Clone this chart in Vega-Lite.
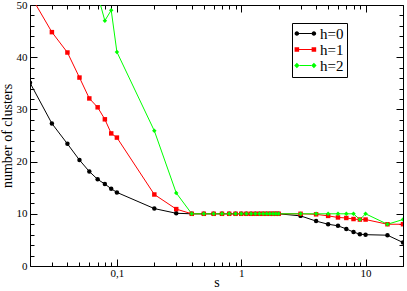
{
  "$schema": "https://vega.github.io/schema/vega-lite/v6.json",
  "width": 373,
  "height": 261,
  "autosize": {"type": "none"},
  "padding": {"left": 30, "top": 5, "right": 4, "bottom": 25},
  "background": "white",
  "config": {
    "view": {"stroke": null},
    "axis": {
      "labelFont": "Liberation Serif",
      "titleFont": "Liberation Serif",
      "labelColor": "black",
      "titleColor": "black",
      "tickColor": "black",
      "domainColor": "black",
      "grid": false,
      "titleFontWeight": "normal",
      "labelFontSize": 11,
      "titleFontSize": 14
    }
  },
  "data": {
    "values": [
      {"s": 0.02, "clusters": 35.1, "h": "h=0"},
      {"s": 0.03, "clusters": 27.3, "h": "h=0"},
      {"s": 0.04, "clusters": 23.4, "h": "h=0"},
      {"s": 0.05, "clusters": 20.3, "h": "h=0"},
      {"s": 0.06, "clusters": 18.1, "h": "h=0"},
      {"s": 0.07, "clusters": 16.6, "h": "h=0"},
      {"s": 0.08, "clusters": 15.7, "h": "h=0"},
      {"s": 0.09, "clusters": 14.8, "h": "h=0"},
      {"s": 0.1, "clusters": 14.1, "h": "h=0"},
      {"s": 0.2, "clusters": 11.0, "h": "h=0"},
      {"s": 0.3, "clusters": 10.1, "h": "h=0"},
      {"s": 0.4, "clusters": 10, "h": "h=0"},
      {"s": 0.5, "clusters": 10, "h": "h=0"},
      {"s": 0.6, "clusters": 10, "h": "h=0"},
      {"s": 0.7, "clusters": 10, "h": "h=0"},
      {"s": 0.8, "clusters": 10, "h": "h=0"},
      {"s": 0.9, "clusters": 10, "h": "h=0"},
      {"s": 1.0, "clusters": 10, "h": "h=0"},
      {"s": 1.1, "clusters": 10, "h": "h=0"},
      {"s": 1.2, "clusters": 10, "h": "h=0"},
      {"s": 1.3, "clusters": 10, "h": "h=0"},
      {"s": 1.4, "clusters": 10, "h": "h=0"},
      {"s": 1.5, "clusters": 10, "h": "h=0"},
      {"s": 1.6, "clusters": 10, "h": "h=0"},
      {"s": 1.7, "clusters": 10, "h": "h=0"},
      {"s": 1.8, "clusters": 10, "h": "h=0"},
      {"s": 1.9, "clusters": 10, "h": "h=0"},
      {"s": 2.0, "clusters": 10, "h": "h=0"},
      {"s": 3, "clusters": 9.6, "h": "h=0"},
      {"s": 4, "clusters": 8.6, "h": "h=0"},
      {"s": 5, "clusters": 8.0, "h": "h=0"},
      {"s": 6, "clusters": 7.7, "h": "h=0"},
      {"s": 7, "clusters": 7.1, "h": "h=0"},
      {"s": 8, "clusters": 6.5, "h": "h=0"},
      {"s": 9, "clusters": 6.1, "h": "h=0"},
      {"s": 10, "clusters": 6.0, "h": "h=0"},
      {"s": 15, "clusters": 5.9, "h": "h=0"},
      {"s": 20, "clusters": 4.5, "h": "h=0"},

      {"s": 0.02, "clusters": 52, "h": "h=1"},
      {"s": 0.03, "clusters": 44.8, "h": "h=1"},
      {"s": 0.04, "clusters": 40.9, "h": "h=1"},
      {"s": 0.05, "clusters": 36.1, "h": "h=1"},
      {"s": 0.06, "clusters": 32.1, "h": "h=1"},
      {"s": 0.07, "clusters": 30.4, "h": "h=1"},
      {"s": 0.08, "clusters": 28.1, "h": "h=1"},
      {"s": 0.09, "clusters": 25.4, "h": "h=1"},
      {"s": 0.1, "clusters": 24.6, "h": "h=1"},
      {"s": 0.2, "clusters": 13.7, "h": "h=1"},
      {"s": 0.3, "clusters": 10.9, "h": "h=1"},
      {"s": 0.4, "clusters": 10, "h": "h=1"},
      {"s": 0.5, "clusters": 10, "h": "h=1"},
      {"s": 0.6, "clusters": 10, "h": "h=1"},
      {"s": 0.7, "clusters": 10, "h": "h=1"},
      {"s": 0.8, "clusters": 10, "h": "h=1"},
      {"s": 0.9, "clusters": 10, "h": "h=1"},
      {"s": 1.0, "clusters": 10, "h": "h=1"},
      {"s": 1.1, "clusters": 10, "h": "h=1"},
      {"s": 1.2, "clusters": 10, "h": "h=1"},
      {"s": 1.3, "clusters": 10, "h": "h=1"},
      {"s": 1.4, "clusters": 10, "h": "h=1"},
      {"s": 1.5, "clusters": 10, "h": "h=1"},
      {"s": 1.6, "clusters": 10, "h": "h=1"},
      {"s": 1.7, "clusters": 10, "h": "h=1"},
      {"s": 1.8, "clusters": 10, "h": "h=1"},
      {"s": 1.9, "clusters": 10, "h": "h=1"},
      {"s": 2.0, "clusters": 10, "h": "h=1"},
      {"s": 3, "clusters": 10, "h": "h=1"},
      {"s": 4, "clusters": 9.9, "h": "h=1"},
      {"s": 5, "clusters": 9.6, "h": "h=1"},
      {"s": 6, "clusters": 9.3, "h": "h=1"},
      {"s": 7, "clusters": 9.2, "h": "h=1"},
      {"s": 8, "clusters": 9.0, "h": "h=1"},
      {"s": 9, "clusters": 8.9, "h": "h=1"},
      {"s": 10, "clusters": 8.9, "h": "h=1"},
      {"s": 15, "clusters": 8.0, "h": "h=1"},
      {"s": 20, "clusters": 8.0, "h": "h=1"},

      {"s": 0.07, "clusters": 52, "h": "h=2"},
      {"s": 0.08, "clusters": 47.0, "h": "h=2"},
      {"s": 0.09, "clusters": 49.0, "h": "h=2"},
      {"s": 0.1, "clusters": 41.0, "h": "h=2"},
      {"s": 0.2, "clusters": 25.9, "h": "h=2"},
      {"s": 0.3, "clusters": 14.0, "h": "h=2"},
      {"s": 0.4, "clusters": 10, "h": "h=2"},
      {"s": 0.5, "clusters": 10, "h": "h=2"},
      {"s": 0.6, "clusters": 10, "h": "h=2"},
      {"s": 0.7, "clusters": 10, "h": "h=2"},
      {"s": 0.8, "clusters": 10, "h": "h=2"},
      {"s": 0.9, "clusters": 10, "h": "h=2"},
      {"s": 1.0, "clusters": 10, "h": "h=2"},
      {"s": 1.1, "clusters": 10, "h": "h=2"},
      {"s": 1.2, "clusters": 10, "h": "h=2"},
      {"s": 1.3, "clusters": 10, "h": "h=2"},
      {"s": 1.4, "clusters": 10, "h": "h=2"},
      {"s": 1.5, "clusters": 10, "h": "h=2"},
      {"s": 1.6, "clusters": 10, "h": "h=2"},
      {"s": 1.7, "clusters": 10, "h": "h=2"},
      {"s": 1.8, "clusters": 10, "h": "h=2"},
      {"s": 1.9, "clusters": 10, "h": "h=2"},
      {"s": 2.0, "clusters": 10, "h": "h=2"},
      {"s": 3, "clusters": 10, "h": "h=2"},
      {"s": 4, "clusters": 10, "h": "h=2"},
      {"s": 5, "clusters": 10, "h": "h=2"},
      {"s": 6, "clusters": 10, "h": "h=2"},
      {"s": 7, "clusters": 10, "h": "h=2"},
      {"s": 8, "clusters": 10, "h": "h=2"},
      {"s": 9, "clusters": 8.9, "h": "h=2"},
      {"s": 10, "clusters": 10, "h": "h=2"},
      {"s": 15, "clusters": 8.0, "h": "h=2"},
      {"s": 20, "clusters": 8.9, "h": "h=2"}
    ]
  },
  "resolve": {
    "scale": {"color": "independent", "shape": "independent"},
    "axis": {"x": "independent", "y": "independent"}
  },
  "layer": [
    {
      "mark": {"type": "line", "clip": true, "strokeWidth": 1},
      "encoding": {
        "x": {"field": "s", "type": "quantitative", "scale": {"type": "log", "domain": [0.02, 20], "nice": false}, "axis": null},
        "y": {"field": "clusters", "type": "quantitative", "scale": {"domain": [0, 50], "nice": false, "zero": false}, "axis": null},
        "color": {"field": "h", "type": "nominal", "scale": {"domain": ["h=0", "h=1", "h=2"], "range": ["#000000", "#ff0000", "#00ff00"]}, "legend": null}
      }
    },
    {
      "mark": {"type": "point", "clip": true, "filled": true, "opacity": 1},
      "encoding": {
        "x": {"field": "s", "type": "quantitative", "scale": {"type": "log", "domain": [0.02, 20], "nice": false}, "axis": null},
        "y": {"field": "clusters", "type": "quantitative", "scale": {"domain": [0, 50], "nice": false, "zero": false}, "axis": null},
        "color": {"field": "h", "type": "nominal", "scale": {"domain": ["h=0", "h=1", "h=2"], "range": ["#000000", "#ff0000", "#00ff00"]}, "legend": null},
        "shape": {"field": "h", "type": "nominal", "scale": {"domain": ["h=0", "h=1", "h=2"], "range": ["circle", "square", "diamond"]}, "legend": null},
        "size": {"field": "h", "type": "nominal", "scale": {"domain": ["h=0", "h=1", "h=2"], "range": [20, 20, 28]}, "legend": null}
      }
    },
    {
      "mark": {"type": "point", "opacity": 0},
      "encoding": {
        "x": {"field": "s", "type": "quantitative", "scale": {"type": "log", "domain": [0.02, 20], "nice": false},
          "axis": {"orient": "bottom", "values": [0.1, 1, 10], "labelExpr": "datum.value < 0.5 ? '0,1' : (datum.value < 5 ? '1' : '10')", "labelFont": "Liberation Serif", "labelFontSize": 11, "tickSize": -7, "labelPadding": 8, "title": "s", "titleFont": "Liberation Serif", "titleFontSize": 14, "titleFontWeight": "normal", "titlePadding": -3, "domain": true, "labelFlush": false, "labelOverlap": false}},
        "y": {"field": "clusters", "type": "quantitative", "scale": {"domain": [0, 50], "nice": false, "zero": false},
          "axis": {"orient": "left", "values": [0, 10, 20, 30, 40, 50], "labelFont": "Liberation Serif", "labelFontSize": 11, "tickSize": -7, "labelPadding": 10, "title": "number of clusters", "titleFont": "Liberation Serif", "titleFontSize": 14, "titleFontWeight": "normal", "titlePadding": 2, "domain": true, "labelFlush": false, "labelOverlap": false}}
      }
    },
    {
      "mark": {"type": "point", "opacity": 0},
      "encoding": {
        "x": {"field": "s", "type": "quantitative", "scale": {"type": "log", "domain": [0.02, 20], "nice": false},
          "axis": {"orient": "bottom", "values": [0.02, 0.03, 0.04, 0.05, 0.06, 0.07, 0.08, 0.09, 0.2, 0.3, 0.4, 0.5, 0.6, 0.7, 0.8, 0.9, 2, 3, 4, 5, 6, 7, 8, 9, 20], "tickSize": -4, "labels": false, "title": null, "domain": false}},
        "y": {"field": "clusters", "type": "quantitative", "scale": {"domain": [0, 50], "nice": false, "zero": false},
          "axis": {"orient": "left", "values": [2, 4, 6, 8, 12, 14, 16, 18, 22, 24, 26, 28, 32, 34, 36, 38, 42, 44, 46, 48], "tickSize": -4, "labels": false, "title": null, "domain": false}}
      }
    },
    {
      "mark": {"type": "point", "opacity": 0},
      "encoding": {
        "x": {"field": "s", "type": "quantitative", "scale": {"type": "log", "domain": [0.02, 20], "nice": false},
          "axis": {"orient": "top", "values": [0.1, 1, 10], "tickSize": -7, "labels": false, "title": null, "domain": true}},
        "y": {"field": "clusters", "type": "quantitative", "scale": {"domain": [0, 50], "nice": false, "zero": false},
          "axis": {"orient": "right", "values": [0, 10, 20, 30, 40, 50], "tickSize": -7, "labels": false, "title": null, "domain": true}}
      }
    },
    {
      "mark": {"type": "point", "opacity": 0},
      "encoding": {
        "x": {"field": "s", "type": "quantitative", "scale": {"type": "log", "domain": [0.02, 20], "nice": false},
          "axis": {"orient": "top", "values": [0.02, 0.03, 0.04, 0.05, 0.06, 0.07, 0.08, 0.09, 0.2, 0.3, 0.4, 0.5, 0.6, 0.7, 0.8, 0.9, 2, 3, 4, 5, 6, 7, 8, 9, 20], "tickSize": -4, "labels": false, "title": null, "domain": false}},
        "y": {"field": "clusters", "type": "quantitative", "scale": {"domain": [0, 50], "nice": false, "zero": false},
          "axis": {"orient": "right", "values": [2, 4, 6, 8, 12, 14, 16, 18, 22, 24, 26, 28, 32, 34, 36, 38, 42, 44, 46, 48], "tickSize": -4, "labels": false, "title": null, "domain": false}}
      }
    },
    {
      "mark": {"type": "point", "opacity": 0, "filled": true},
      "encoding": {
        "x": {"field": "s", "type": "quantitative", "scale": {"type": "log", "domain": [0.02, 20], "nice": false}, "axis": null},
        "y": {"field": "clusters", "type": "quantitative", "scale": {"domain": [0, 50], "nice": false, "zero": false}, "axis": null},
        "color": {"field": "h", "type": "nominal", "scale": {"domain": ["h=0", "h=1", "h=2"], "range": ["#000000", "#ff0000", "#00ff00"]},
          "legend": {"title": null, "orient": "none", "legendX": 262, "legendY": 18, "strokeColor": "black", "fillColor": "white", "padding": 3, "labelFont": "Liberation Serif", "labelFontSize": 15, "labelColor": "black", "symbolSize": 144, "symbolOpacity": 1, "symbolStrokeWidth": 0, "labelOffset": 10, "rowPadding": -1, "cornerRadius": 0}},
        "shape": {"field": "h", "type": "nominal",
          "scale": {"domain": ["h=0", "h=1", "h=2"], "range": [
            "M-1.32,0A0.38,0.38 0 1,1 -0.56,0A0.38,0.38 0 1,1 -1.32,0ZM-0.56,-0.09H1.52V0.09H-0.56ZM1.52,0A0.38,0.38 0 1,1 2.28,0A0.38,0.38 0 1,1 1.52,0Z",
            "M-1.32,-0.38H-0.56V0.38H-1.32ZM-0.56,-0.09H1.52V0.09H-0.56ZM1.52,-0.38H2.28V0.38H1.52Z",
            "M-0.94,-0.45L-0.49,0L-0.94,0.45L-1.39,0ZM-0.49,-0.09H1.45V0.09H-0.49ZM1.9,-0.45L2.35,0L1.9,0.45L1.45,0Z"
          ]},
          "legend": {"title": null, "orient": "none", "legendX": 262, "legendY": 18, "strokeColor": "black", "fillColor": "white", "padding": 3, "labelFont": "Liberation Serif", "labelFontSize": 15, "labelColor": "black", "symbolSize": 144, "symbolOpacity": 1, "symbolStrokeWidth": 0, "labelOffset": 10, "rowPadding": -1, "cornerRadius": 0}}
      }
    }
  ]
}
